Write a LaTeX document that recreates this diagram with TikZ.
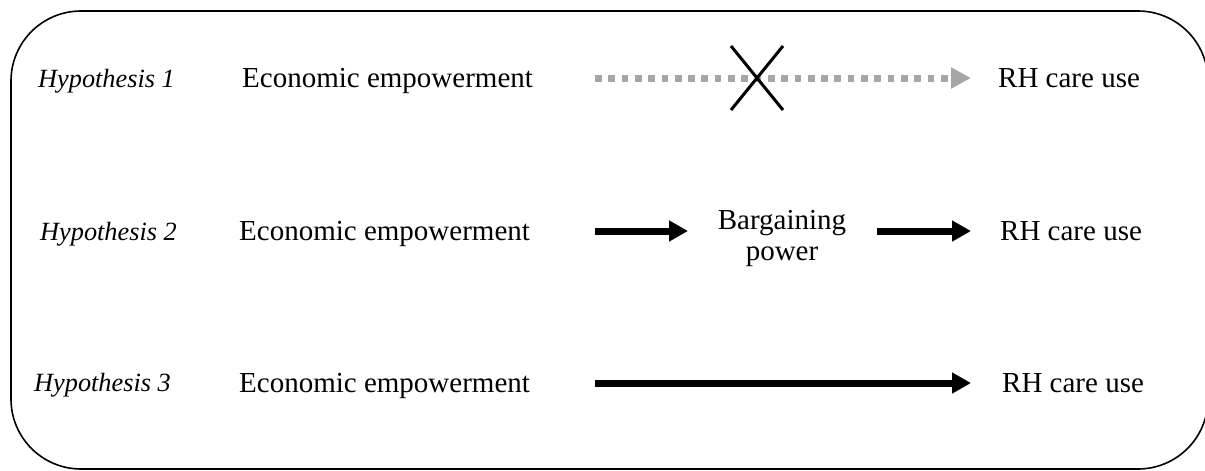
\documentclass[tikz,border=0pt]{standalone}
\usepackage{fontspec}
\setmainfont{Liberation Serif}
\usetikzlibrary{arrows.meta}
\definecolor{dotgray}{RGB}{166,166,166}
\tikzset{
  txt/.style={anchor=base west, inner sep=0pt, font=\fontsize{29}{31}\selectfont},
  hyp/.style={anchor=base west, inner sep=0pt, font=\fontsize{26.3}{30}\selectfont\itshape},
  thickarrow/.style={line width=7pt, -{Triangle[length=19pt,width=20pt]}},
  grayarrow/.style={line width=7pt, dotgray, dash pattern=on 6.7pt off 6.6pt, -{Triangle[length=20pt,width=20pt]}},
  cross/.style={line width=3pt, line cap=butt}
}
\begin{document}
\begin{tikzpicture}[x=1pt,y=-1pt]
\useasboundingbox (0,0) rectangle (1205,471);
\begin{scope}
\clip (0,0) rectangle (1205,471);
\draw[line width=1.6pt, rounded corners=70pt] (11,11) rectangle (1208,469);
\end{scope}

% Row 1
\node[hyp] (h1) at (38,87) {Hypothesis 1};
\node[txt] (e1) at (242,87) {Economic empowerment};
\node[txt] (r1) at (998,87) {RH care use};
\coordinate (a1s) at (595,78);
\coordinate (a1e) at (971,78);
\draw[grayarrow] (a1s) -- (a1e);
\coordinate (x1a) at (731,110);
\coordinate (x1b) at (783,46);
\coordinate (x1c) at (731,46);
\coordinate (x1d) at (783,110);
\draw[cross] (x1a) -- (x1b);
\draw[cross] (x1c) -- (x1d);

% Row 2
\node[hyp] (h2) at (40,240) {Hypothesis 2};
\node[txt] (e2) at (239,240) {Economic empowerment};
\node[txt, anchor=base, align=center] (bp) at (782,260) {Bargaining\\power};
\node[txt] (r2) at (1000,240) {RH care use};
\coordinate (a2s) at (595,231);
\coordinate (a2e) at (688,231);
\coordinate (a3s) at (877,231);
\coordinate (a3e) at (971,231);
\draw[thickarrow] (a2s) -- (a2e);
\draw[thickarrow] (a3s) -- (a3e);

% Row 3
\node[hyp] (h3) at (34,391) {Hypothesis 3};
\node[txt] (e3) at (239,392) {Economic empowerment};
\node[txt] (r3) at (1002,392) {RH care use};
\coordinate (a4s) at (595,383);
\coordinate (a4e) at (971,383);
\draw[thickarrow] (a4s) -- (a4e);
\end{tikzpicture}
\end{document}
